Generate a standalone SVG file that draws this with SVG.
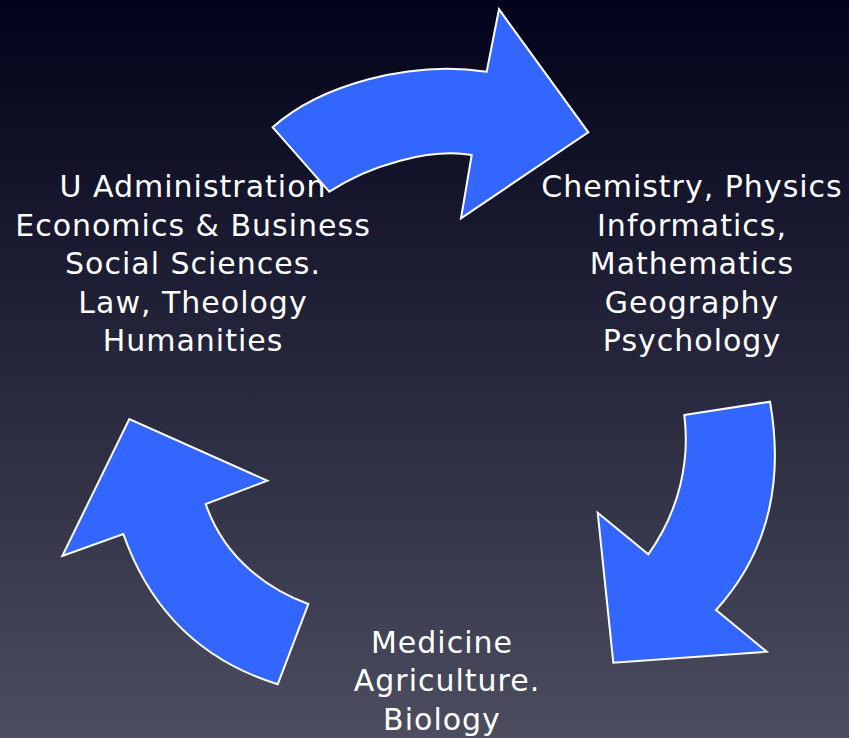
<svg xmlns="http://www.w3.org/2000/svg" width="849" height="738" viewBox="0 0 849 738">
<defs>
<linearGradient id="bg" x1="0" y1="0" x2="0" y2="1">
<stop offset="0" stop-color="#02021a"/>
<stop offset="0.5" stop-color="#26263c"/>
<stop offset="1" stop-color="#4d4d60"/>
</linearGradient>
<style>
.arrow{fill:#3366ff;stroke:#ffffff;stroke-width:2;stroke-linejoin:miter}
.lbl{font-family:"DejaVu Sans","Noto Sans",sans-serif;font-size:30px;letter-spacing:1px;fill:#ffffff;text-anchor:middle}
</style>
</defs>
<rect width="849" height="738" fill="url(#bg)"/>
<g id="node-left">
<text class="lbl" x="193" y="197">U Administration</text>
<text class="lbl" x="193" y="236">Economics &amp; Business</text>
<text class="lbl" x="193" y="274">Social Sciences.</text>
<text class="lbl" x="193" y="313">Law, Theology</text>
<text class="lbl" x="193" y="351">Humanities</text>
</g>
<g id="node-right">
<text class="lbl" x="692" y="197">Chemistry, Physics</text>
<text class="lbl" x="692" y="236">Informatics,</text>
<text class="lbl" x="692" y="274">Mathematics</text>
<text class="lbl" x="692" y="313">Geography</text>
<text class="lbl" x="692" y="351">Psychology</text>
</g>
<g id="node-bottom">
<text class="lbl" x="442" y="653">Medicine</text>
<text class="lbl" x="447" y="691">Agriculture.</text>
<text class="lbl" x="442" y="730">Biology</text>
</g>
<g id="connectors">
<path class="arrow" d="M272.7,127.3 C320,85 410,60 486.7,71.7 L499,9.3 L588.3,132.3 L461,218.3 L471.7,155 C430,148 370,165 329.3,191.7 Z"/>
<path class="arrow" d="M684.3,415 L770,401.7 C782,470 775,545 716,610 L766.7,651.7 L613.3,662.7 L597.7,512.7 L648.3,554.3 C680,510 690,460 684.3,415 Z"/>
<path class="arrow" d="M277.7,684.3 L308.3,604 C270,590 225,560 205.7,504 L267.3,480.7 L129.3,419 L62.3,556 L123.3,534 C150,610 200,660 277.7,684.3 Z"/>
</g>
</svg>
